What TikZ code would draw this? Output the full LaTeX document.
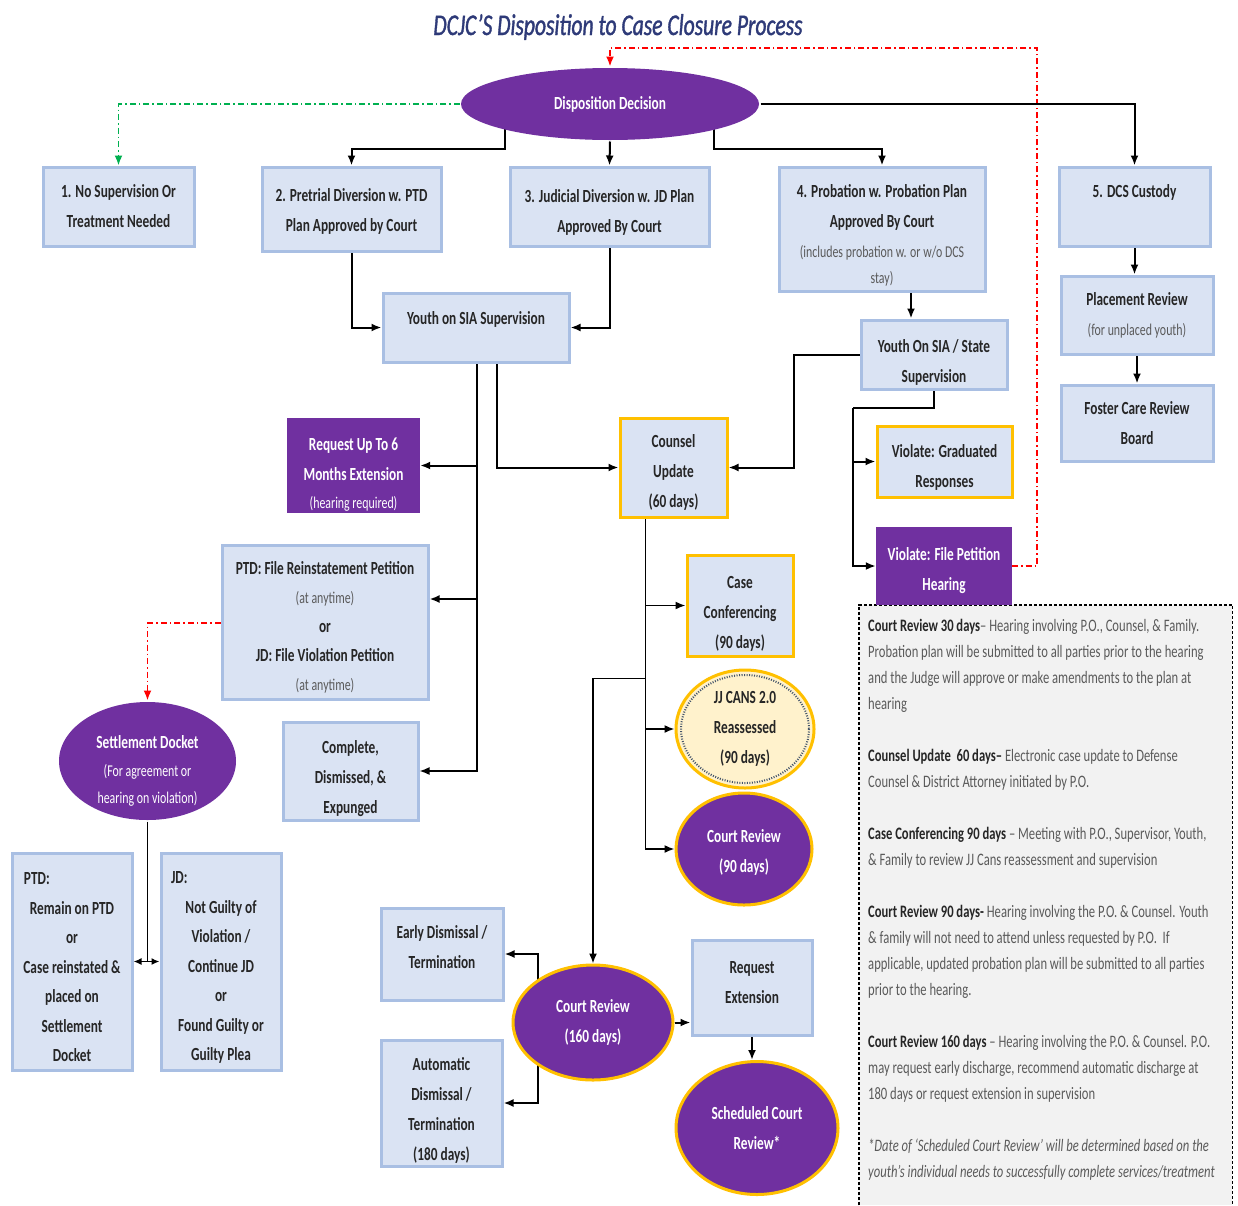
\documentclass[tikz,border=0pt]{standalone}
\usepackage{fontspec}
\setmainfont{Carlito}[FakeStretch=0.72]
\newfontfamily\ttlfont{Carlito}[FakeStretch=0.72, FakeBold=1.2]
\usetikzlibrary{arrows.meta,shapes.geometric,calc,backgrounds}
\definecolor{purp}{HTML}{7030A0}
\definecolor{gold}{HTML}{FFC000}
\definecolor{bfill}{HTML}{DAE3F3}
\definecolor{bedge}{HTML}{A9BFE3}
\definecolor{ttl}{HTML}{2E3A78}
\definecolor{ngray}{HTML}{5A5A5A}
\definecolor{notefill}{HTML}{F2F2F2}
\definecolor{cream}{HTML}{FFF2CC}
\definecolor{gdash}{HTML}{00B050}
\definecolor{rdash}{HTML}{FF0000}
\definecolor{txt}{HTML}{262626}
\definecolor{dotblue}{HTML}{44546A}
\newcommand\bxfont{\fontsize{18.5}{30}\selectfont\bfseries}
\newcommand\subtxt{\fontsize{16.5}{30}\selectfont\mdseries}
\newcommand\subg{\subtxt\color{ngray}}
\newcommand\tdn[1]{\rule{0pt}{#1pt}}
\newcommand\tup[1]{\rule[-#1pt]{0pt}{#1pt}}
\tikzset{
  box/.style={rectangle, fill=bfill, draw=bedge, line width=3, align=center, inner sep=2, font=\bxfont, text=txt},
  ybox/.style={box, draw=gold},
  pbox/.style={rectangle, fill=purp, draw=none, align=center, inner sep=2, text=white, font=\bxfont},
  pell/.style={ellipse, fill=purp, draw=gold, line width=3, align=center, inner sep=0, text=white, font=\bxfont},
  arr/.style={line width=2, -{Latex[length=10,width=8]}},
  tarr/.style={line width=1.6, -{Latex[length=10,width=8]}},
  rline/.style={rdash, line width=1.8, dash pattern=on 6pt off 3pt on 1.5pt off 3pt, -{Latex[length=10,width=8]}},
  gline/.style={gdash, line width=1.8, dash pattern=on 6pt off 3pt on 1.5pt off 3pt, -{Latex[length=10,width=8]}}
}
\begin{document}
\begin{tikzpicture}[x=1pt,y=-1pt]
\useasboundingbox (0,0) rectangle (1238,1205);

\node[font=\fontsize{30}{34}\selectfont\ttlfont\itshape, text=ttl] (title) at (618,27) {DCJC’S Disposition to Case Closure Process};

\node[pell, draw=none, minimum width=298, minimum height=72] (disp) at (610,104) {Disposition Decision};

\node[box, minimum width=151, minimum height=79] (b1) at (118.5,206.5) {1. No Supervision Or\\Treatment Needed};
\node[box, minimum width=179, minimum height=84] (b2) at (351.5,209) {\tdn{18}2. Pretrial Diversion w. PTD\\Plan Approved by Court};
\node[box, minimum width=199, minimum height=79] (b3) at (609.5,206.5) {\tdn{24}3. Judicial Diversion w. JD Plan\\Approved By Court};
\node[box, minimum width=206, minimum height=124] (b4) at (882,229) {\tdn{26}4. Probation w. Probation Plan\\Approved By Court\\{\subg (includes probation w. or w/o DCS}\\[-4pt]{\subg stay)}};
\node[box, minimum width=151, minimum height=79] (b5) at (1134.5,206.5) {5. DCS Custody\\~};
\node[box, minimum width=152, minimum height=78] (place) at (1137,315) {Placement Review\\{\subg (for unplaced youth)}};
\node[box, minimum width=152, minimum height=76] (foster) at (1137,423) {Foster Care Review\\Board};

\node[box, minimum width=186, minimum height=69] (sia) at (476,327.5) {\tdn{24}Youth on SIA Supervision\\~};
\node[box, minimum width=146, minimum height=69] (siastate) at (934,354.5) {\tdn{28}Youth On SIA / State\\Supervision};

\node[pbox, minimum width=133, minimum height=95] (req) at (353.5,465.5) {\tdn{30}Request Up To 6\\Months Extension\\[-2pt]{\subtxt (hearing required)}};
\node[ybox, minimum width=107, minimum height=99] (counsel) at (673.5,467.5) {\tdn{22}Counsel\\Update\\(60 days)};
\node[ybox, minimum width=135, minimum height=71] (vgrad) at (944.5,461.5) {\tdn{24}Violate: Graduated\\Responses};

\node[rectangle, fill=notefill, minimum width=373, minimum height=600, inner sep=0, anchor=north west] (notes) at (859,605) {};
\draw[line width=1.5, dash pattern=on 3pt off 2pt] (notes.south west) -- (notes.north west) -- (notes.north east) -- (notes.south east);

\node[pbox, minimum width=136, minimum height=78] (vfile) at (944,566) {\tdn{22}Violate: File Petition\\Hearing};

\node[box, minimum width=206, minimum height=154, font=\fontsize{18.5}{29}\selectfont\bfseries] (ptd) at (325,622) {\tdn{24}PTD: File Reinstatement Petition\\{\subg (at anytime)}\\or\\JD: File Violation Petition\\{\subg (at anytime)}};
\node[ybox, minimum width=106, minimum height=101] (cconf) at (740,605.5) {\tdn{28}Case\\Conferencing\\(90 days)};
\node[ellipse, fill=cream, draw=gold, line width=3, minimum width=138, minimum height=118, font=\bxfont, text=txt, align=center, inner sep=0] (jj) at (745,729) {JJ CANS 2.0\\Reassessed\\(90 days)};
\draw[dotblue, line width=2, dash pattern=on 1pt off 1.5pt] (jj.center) ellipse [x radius=64, y radius=54];
\node[pell, minimum width=136, minimum height=112] (cr90) at (744,849) {\tdn{20}Court Review\\(90 days)};

\node[pell, draw=none, minimum width=177, minimum height=118,
  label={[text=white, align=center, font=\fontsize{18.5}{27.5}\selectfont\bfseries, yshift=-10]center:{Settlement Docket\\{\subtxt (For agreement or}\\{\subtxt hearing on violation)}}}] (settle) at (147.5,761) {};
\node[box, minimum width=135, minimum height=98] (compl) at (350.5,771) {\tdn{28}Complete,\\Dismissed, \&\\Expunged};

\node[box, minimum width=120, minimum height=217, font=\fontsize{18.5}{29.5}\selectfont\bfseries] (ptdb) at (72,961.5) {\tdn{24}\makebox[96pt][l]{PTD:}\\Remain on PTD\\or\\Case reinstated \&\\placed on\\Settlement\\Docket};
\node[box, minimum width=120, minimum height=217, font=\fontsize{18.5}{29.5}\selectfont\bfseries] (jdb) at (221,961.5) {\tdn{24}\makebox[100pt][l]{JD:}\\Not Guilty of\\Violation /\\Continue JD\\or\\Found Guilty or\\Guilty Plea};

\node[box, minimum width=122, minimum height=92] (early) at (442,954) {Early Dismissal /\\Termination\tup{14}};
\node[box, minimum width=121, minimum height=126] (auto) at (441.5,1103) {\tdn{28}Automatic\\Dismissal /\\Termination\\(180 days)};
\node[pell, minimum width=160, minimum height=115] (cr160) at (593,1022.5) {Court Review\\(160 days)};
\node[box, minimum width=120, minimum height=95] (reqext) at (752,987.5) {Request\\Extension\tup{10}};
\node[pell, minimum width=162, minimum height=133] (sched) at (757,1128) {Scheduled Court\\Review*};

\node[anchor=north west, align=left, inner sep=0, font=\fontsize{17.5}{26}\selectfont, text=ngray] (ntext) at (868,619) {%
\textbf{\color{txt}Court Review 30 days}– Hearing involving P.O., Counsel, \& Family.\\
Probation plan will be submitted to all parties prior to the hearing\\
and the Judge will approve or make amendments to the plan at\\
hearing\\[26pt]
\textbf{\color{txt}Counsel Update\ \ 60 days–} Electronic case update to Defense\\
Counsel \& District Attorney initiated by P.O.\\[26pt]
\textbf{\color{txt}Case Conferencing 90 days} – Meeting with P.O., Supervisor, Youth,\\
\& Family to review JJ Cans reassessment and supervision\\[26pt]
\textbf{\color{txt}Court Review 90 days-} Hearing involving the P.O. \& Counsel. Youth\\
\& family will not need to attend unless requested by P.O.\ \ If\\
applicable, updated probation plan will be submitted to all parties\\
prior to the hearing.\\[26pt]
\textbf{\color{txt}Court Review 160 days} – Hearing involving the P.O. \& Counsel. P.O.\\
may request early discharge, recommend automatic discharge at\\
180 days or request extension in supervision\\[26pt]
\textit{*Date of ‘Scheduled Court Review’ will be determined based on the}\\
\textit{youth’s individual needs to successfully complete services/treatment}};

\begin{scope}[on background layer]
\fill[white] (0,0) rectangle (1238,1205);
\draw[gline] (disp.west) -| (b1.north);
\draw[rline] (vfile.east) -| (1037,48) -| (disp.north);
\draw[arr] ($(disp.center)+(-105,0)$) |- ($(b2.north)+(0,-17)$) -- (b2.north);
\draw[arr] (disp.south) -- (b3.north);
\draw[arr] ($(disp.center)+(104,0)$) |- ($(b4.north)+(0,-17)$) -- (b4.north);
\draw[arr] (disp.east) -| (b5.north);
\draw[arr] (b5.south) -- (b5.south |- place.north);
\draw[arr] (place.south) -- (foster.north);
\draw[arr] (b2.south) |- (sia.west);
\draw[arr] (b3.south) |- (sia.east);
\draw[arr] ($(b4.south)+(29,0)$) -- ($(siastate.north)+(-23,0)$);
\draw[arr] (siastate.west) -- ++(-66,0) |- (counsel.east);
\coordinate (sv) at ($(siastate.south)+(-81,17)$);
\draw[line width=2] (siastate.south) |- (sv);
\draw[arr] (sv) |- (vgrad.west);
\draw[arr] (sv) |- (vfile.west);
\draw[arr] ($(sia.south)+(21,0)$) |- (counsel.west);
\coordinate (st) at ($(sia.south)+(1,0)$);
\draw[tarr] (st) |- (compl.east);
\draw[arr] (st |- req.east) -- (req.east);
\draw[arr] ($(st |- ptd.east)+(0,-23)$) -- ($(ptd.east)+(0,-23)$);
\draw[rline] ($(ptd.west)+(0,1)$) -| (settle.north);
\coordinate (sj) at ($(ptdb.east)!0.5!(jdb.west)$);
\draw[line width=1.6] (settle.south) -- (settle.south |- sj);
\draw[line width=1.8, {Latex[length=8,width=7]}-{Latex[length=8,width=7]}] (ptdb.east) -- (jdb.west);
\coordinate (ct) at ($(counsel.south)+(-28,0)$);
\draw[tarr] (ct) |- (cconf.west);
\draw[tarr] (ct) |- (jj.west);
\draw[tarr] (ct) |- (cr90.west);
\draw[tarr] ($(ct)+(0,160)$) -| (cr160.north);
\draw[arr] ($(cr160.center)+(-55,0)$) |- (early.east);
\draw[arr] ($(cr160.center)+(-55,0)$) |- (auto.east);
\draw[arr] (cr160.east) -- (cr160.east -| reqext.west);
\draw[arr] (reqext.south) -- (reqext.south |- sched.north);
\end{scope}
\end{tikzpicture}
\end{document}
